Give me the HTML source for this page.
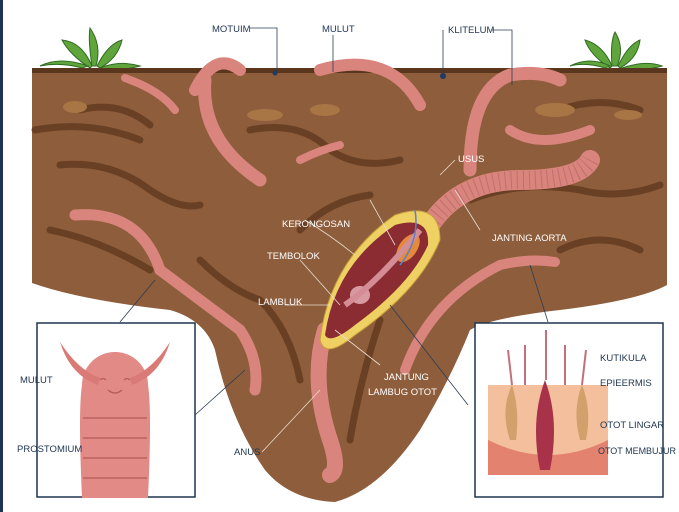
<!DOCTYPE html>
<html><head><meta charset="utf-8"><style>
body{margin:0;background:#fff;width:679px;height:512px;overflow:hidden}
svg{display:block}
text{font-family:"Liberation Sans",sans-serif;font-size:9.5px;fill:#1e3550}
.w{fill:#fff}
</style></head><body>
<svg width="679" height="512" viewBox="0 0 679 512">
<rect x="0" y="0" width="3" height="512" fill="#1d3553"/>
<g fill="#5fa53c" stroke="#2f6b22" stroke-width="1">
<path d="M90 68 Q70 55 62 40 Q82 42 92 66Z"/><path d="M92 66 Q88 40 90 28 Q102 45 96 66Z"/><path d="M97 66 Q108 44 122 40 Q118 58 100 68Z"/><path d="M82 68 Q60 62 40 66 Q60 56 88 66Z"/><path d="M100 68 Q120 60 140 66 Q118 72 100 68Z"/>
<path d="M610 68 Q590 55 585 40 Q603 45 612 66Z"/><path d="M612 66 Q610 42 615 32 Q625 48 617 66Z"/><path d="M618 66 Q628 45 640 40 Q638 58 620 68Z"/><path d="M605 68 Q585 62 570 66 Q590 56 610 66Z"/><path d="M622 68 Q645 60 662 66 Q642 72 622 68Z"/>
</g>
<path d="M32 68 L667 68 L667 285 Q640 300 560 310 Q490 318 470 330 Q450 380 420 430 Q380 490 335 502 Q290 500 265 470 Q230 420 215 350 Q205 320 170 310 Q80 300 32 283Z" fill="#8e5d3b"/>
<path d="M32 68 L667 68 L667 73 L32 73Z" fill="#5a361d"/>
<g fill="none" stroke="#5e371e" stroke-width="7" stroke-linecap="round" opacity=".75">
<path d="M60 165 Q110 160 150 190 Q180 210 200 205"/>
<path d="M35 130 Q90 120 140 140"/>
<path d="M80 110 Q120 100 150 125"/>
<path d="M250 130 Q300 120 330 150 Q360 170 400 160"/>
<path d="M470 200 Q520 180 580 190 Q620 200 660 185"/>
<path d="M300 230 Q330 200 370 195"/>
<path d="M560 110 Q600 95 640 110"/>
<path d="M200 260 Q230 290 260 300 Q290 330 300 380"/>
<path d="M380 320 Q360 380 350 440"/>
<path d="M560 250 Q600 230 640 250"/>
<path d="M50 230 Q100 240 150 270"/>
</g>
<g fill="#a87545"><ellipse cx="75" cy="107" rx="12" ry="6"/><ellipse cx="265" cy="115" rx="18" ry="6"/><ellipse cx="325" cy="110" rx="15" ry="6"/><ellipse cx="555" cy="110" rx="20" ry="7"/><ellipse cx="628" cy="115" rx="14" ry="5"/></g>
<circle cx="275" cy="73" r="2.5" fill="#1e3a66"/><circle cx="443" cy="76" r="3" fill="#1e3a66"/>
<g fill="none" stroke="#d9857d" stroke-linecap="round">
<path d="M205 80 Q200 140 260 180" stroke-width="13"/>
<path d="M195 90 Q215 50 240 70" stroke-width="12"/>
<path d="M320 70 Q390 50 420 105" stroke-width="12"/>
<path d="M470 170 Q470 90 510 75 Q540 70 560 80" stroke-width="13"/>
<path d="M510 130 Q540 150 590 130" stroke-width="10"/>
<path d="M125 78 Q160 90 175 110" stroke-width="8"/>
<path d="M300 160 Q320 150 340 145" stroke-width="8"/>
<path d="M75 215 Q140 210 160 270 Q200 300 240 330 Q260 360 255 390" stroke-width="11"/>
<path d="M430 225 Q460 180 520 180 Q580 180 590 160" stroke-width="20"/>
<path d="M325 330 Q310 380 330 440 Q340 470 330 475" stroke-width="16"/>
<path d="M405 370 Q430 300 500 265 Q530 258 555 262" stroke-width="10"/>
</g>
<g fill="none" stroke="#a85c5c" stroke-width="18" stroke-dasharray="1 5" opacity=".5">
<path d="M430 225 Q460 180 520 180 Q580 180 590 160"/>
</g>
<path d="M320 340 Q330 260 395 215 Q440 200 440 240 Q420 290 355 335 Q325 360 320 340Z" fill="#eed063" stroke="#c9a13a"/>
<path d="M325 335 Q335 265 395 225 Q430 215 428 245 Q410 285 355 325 Q330 345 325 335Z" fill="#8a2c32"/>
<ellipse cx="408" cy="248" rx="9" ry="16" transform="rotate(35 408 248)" fill="#e48a3a"/>
<ellipse cx="360" cy="295" rx="10" ry="9" fill="#d89aa0"/>
<path d="M345 305 Q380 280 420 230" stroke="#d58d95" stroke-width="6" fill="none"/>
<path d="M415 210 Q420 240 400 265" stroke="#5b82c8" stroke-width="1.5" fill="none"/>
<g stroke="#2b3d55" stroke-width=".8" fill="none">
<path d="M250 28 H277 V73"/><path d="M333 35 V72"/><path d="M443 30 V76"/><path d="M492 30 H512 V85"/>
<path d="M120 322 L155 280"/><path d="M195 415 L245 370"/><path d="M468 405 L390 305"/><path d="M548 322 L530 265"/>
<path d="M60 385 L90 400"/><path d="M75 445 H95"/>
<path d="M598 360 L575 395"/><path d="M600 385 L580 410"/><path d="M598 423 H570"/><path d="M598 452 H560"/>
</g>
<g stroke="#e8ddd0" stroke-width=".8" fill="none">
<path d="M455 160 L440 175"/><path d="M305 220 Q330 235 355 255"/><path d="M300 260 L340 305"/><path d="M285 305 H330"/>
<path d="M380 365 L335 330"/><path d="M480 230 L455 190"/><path d="M262 452 L320 390"/>
<path d="M370 200 L395 245"/>
</g>
<rect x="37" y="323" width="158" height="174" fill="#fff" stroke="#1e3550" stroke-width="1.5"/>
<rect x="475" y="323" width="188" height="174" fill="#fff" stroke="#1e3550" stroke-width="1.5"/>
<path d="M82 385 Q78 410 82 498 H148 Q152 410 148 385Z" fill="#e28a85"/>
<circle cx="115" cy="385" r="33" fill="#e28a85"/>
<g stroke="#b45b5b" fill="none" stroke-width="1.2"><path d="M83 418 H147"/><path d="M83 438 H147"/><path d="M83 458 H147"/><path d="M83 478 H147"/><path d="M108 390 Q115 396 122 390"/><path d="M100 380 q3 -3 6 0"/><path d="M124 380 q3 -3 6 0"/></g>
<path d="M98 385 Q70 375 60 342 Q78 370 100 378Z" fill="#d97a76"/><path d="M132 385 Q160 375 170 342 Q152 370 130 378Z" fill="#d97a76"/>
<rect x="488" y="385" width="120" height="90" fill="#f3bf9d"/>
<path d="M488 440 Q548 470 608 440 V475 H488Z" fill="#e3826e"/>
<path d="M540 470 Q530 420 545 380 Q560 420 550 470Z" fill="#a8324a"/>
<path d="M510 440 Q500 410 512 385 Q520 410 516 440Z" fill="#d2a06b"/><path d="M580 440 Q572 410 582 385 Q592 410 586 440Z" fill="#d2a06b"/>
<g stroke="#c2707c" stroke-width="2" fill="none"><path d="M546 380 V330"/><path d="M512 385 L508 350"/><path d="M582 385 L586 350"/><path d="M525 385 V345"/><path d="M565 385 V345"/></g>
<g>
<text x="212" y="32">MOTUIM</text><text x="322" y="32">MULUT</text><text x="448" y="33">KLITELUM</text>
<text class="w" x="458" y="162">USUS</text><text class="w" x="282" y="227">KERONGOSAN</text><text class="w" x="267" y="259">TEMBOLOK</text>
<text class="w" x="258" y="305">LAMBLUK</text><text class="w" x="384" y="380">JANTUNG</text><text class="w" x="368" y="395">LAMBUG OTOT</text>
<text class="w" x="492" y="241">JANTING AORTA</text><text x="234" y="455">ANUS</text>
<text x="20" y="383">MULUT</text><text x="17" y="452">PROSTOMIUM</text>
<text x="600" y="361">KUTIKULA</text><text x="600" y="386">EPIEERMIS</text><text x="600" y="428">OTOT LINGAR</text><text x="598" y="454" textLength="78" lengthAdjust="spacingAndGlyphs">OTOT MEMBUJUR</text>
</g>
</svg>
</body></html>
